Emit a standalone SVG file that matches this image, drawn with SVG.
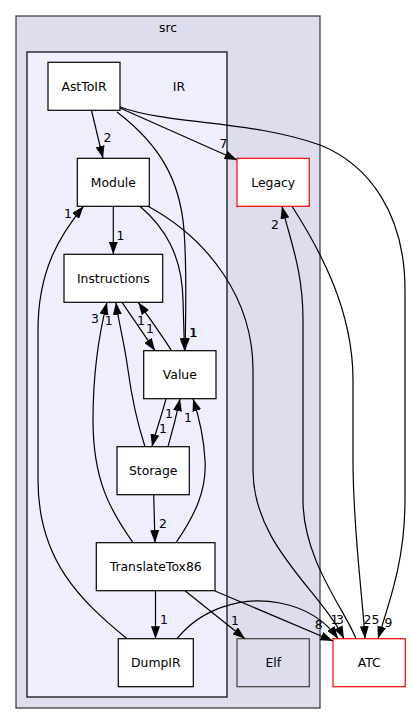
<svg xmlns="http://www.w3.org/2000/svg" width="411" height="724" viewBox="0 0 411 724">
<style>
text{font-family:"DejaVu Sans","Liberation Sans",sans-serif;font-size:12.4px;fill:#000;text-anchor:middle}
.node rect{fill:#fff;stroke:#000;stroke-width:1.2}
.ext rect{fill:#fff;stroke:#ff0000;stroke-width:1.2}
.sub rect{fill:#ddddee;stroke:#404040;stroke-width:1.2}
.edges path{fill:none;stroke:#000;stroke-width:1.2;marker-end:url(#ah)}
</style>
<defs>
<marker id="ah" markerUnits="userSpaceOnUse" markerWidth="13" markerHeight="9" refX="12.5" refY="4.5" orient="auto">
<path d="M0,0 L12.5,4.5 L0,9 z" fill="#000"/>
</marker>
</defs>
<rect width="411" height="724" fill="#fff"/>
<g id="cluster_src">
<rect x="16" y="16" width="304" height="692" fill="#ddddee" stroke="#404040" stroke-width="1.3"/>
<text x="168" y="32">src</text>
</g>
<g id="cluster_IR">
<rect x="27" y="52" width="200" height="645" fill="#eeeeff" stroke="#000" stroke-width="1.2"/>
<text x="179" y="90.5">IR</text>
</g>
<g id="node_AstToIR" class="node"><rect x="48" y="62.3" width="72" height="48"/><text x="84" y="90.5">AstToIR</text></g>
<g id="node_Module" class="node"><rect x="77.3" y="158.3" width="72" height="48"/><text x="113.3" y="186.5">Module</text></g>
<g id="node_Legacy" class="ext"><rect x="237" y="158.3" width="72.3" height="48"/><text x="273.2" y="186.5">Legacy</text></g>
<g id="node_Instructions" class="node"><rect x="64" y="254.3" width="98.7" height="48"/><text x="113.3" y="282.5">Instructions</text></g>
<g id="node_Value" class="node"><rect x="143.7" y="350.7" width="72.3" height="48"/><text x="179.8" y="379">Value</text></g>
<g id="node_Storage" class="node"><rect x="117" y="446.7" width="72.3" height="48"/><text x="153.2" y="475">Storage</text></g>
<g id="node_TranslateTox86" class="node"><rect x="96.3" y="542.7" width="118.7" height="48"/><text x="155.7" y="571">TranslateTox86</text></g>
<g id="node_DumpIR" class="node"><rect x="118.3" y="638.7" width="75" height="48"/><text x="155.8" y="667">DumpIR</text></g>
<g id="node_Elf" class="sub"><rect x="237" y="638.7" width="72.3" height="48"/><text x="273.2" y="667">Elf</text></g>
<g id="node_ATC" class="ext"><rect x="333" y="638.7" width="72.3" height="48"/><text x="369.2" y="667">ATC</text></g>
<g id="edges" class="edges">
<path d="M91.5,110.5 L103,158.3"/>
<path d="M120,108 L237,160"/>
<path d="M120,107 C170,125 250,120 320,145 C370,165 405,215 405,290 L405,500 C405,560 390,600 378,638.7"/>
<path d="M117,112 C160,145 180,180 184,230 C187,270 186,310 185,350.7"/>
<path d="M140,206.3 C165,228 182,255 183,300 L184.5,350.7"/>
<path d="M113.3,206.3 L113.3,254.3"/>
<path d="M148,206.3 C210,240 253,300 253,370 L253,470 C253,545 320,590 344,638.7"/>
<path d="M177,638.7 C200,610 240,595 280,603 C305,608 325,620 338,638.7"/>
<path d="M215,591 L333,641"/>
<path d="M185,590.7 L245,638.7"/>
<path d="M155.5,590.7 L155.5,638.7"/>
<path d="M153.7,494.7 L155,542.7"/>
<path d="M166,398.7 C162,415 156,430 152,446.7"/>
<path d="M168,446.7 C172,433 176,418 180,398.7"/>
<path d="M176,542.7 C195,515 207,490 205,460 C204,440 200,420 193,398.7"/>
<path d="M145,446.7 C138,425 132,400 128,370 C124,340 118,320 116,302.3"/>
<path d="M133,542.7 C110,510 93,480 93,420 C93,370 100,330 107,302.3"/>
<path d="M122,302.3 L155,350.7"/>
<path d="M171.5,350.7 C163,337 152,322 138.3,302.3"/>
<path d="M127,638.7 C80,600 38,560 38,480 L38,330 C38,270 60,235 83.5,206.3"/>
<path d="M356,638.7 C345,610 303,560 303,500 L303,320 C303,270 290,240 282,206.3"/>
<path d="M292,206.3 C320,250 353,310 353,380 L353,460 C353,530 362,590 365,638.7"/>
</g>
<g id="edge_labels">
<text x="107.5" y="142">2</text>
<text x="223.5" y="148">7</text>
<text x="388.5" y="627">9</text>
<text x="193" y="337">1</text>
<text x="193.6" y="337">1</text>
<text x="120.5" y="240">1</text>
<text x="334.5" y="624">1</text>
<text x="340" y="624">3</text>
<text x="318.7" y="629">8</text>
<text x="235" y="625">1</text>
<text x="164" y="624">1</text>
<text x="163" y="528">2</text>
<text x="163" y="433">1</text>
<text x="169" y="418">1</text>
<text x="188" y="422">1</text>
<text x="108.7" y="325">1</text>
<text x="95" y="323">3</text>
<text x="150" y="333">1</text>
<text x="141" y="325">1</text>
<text x="68" y="218">1</text>
<text x="275" y="229">2</text>
<text x="371.5" y="624">25</text>
</g>
</svg>
